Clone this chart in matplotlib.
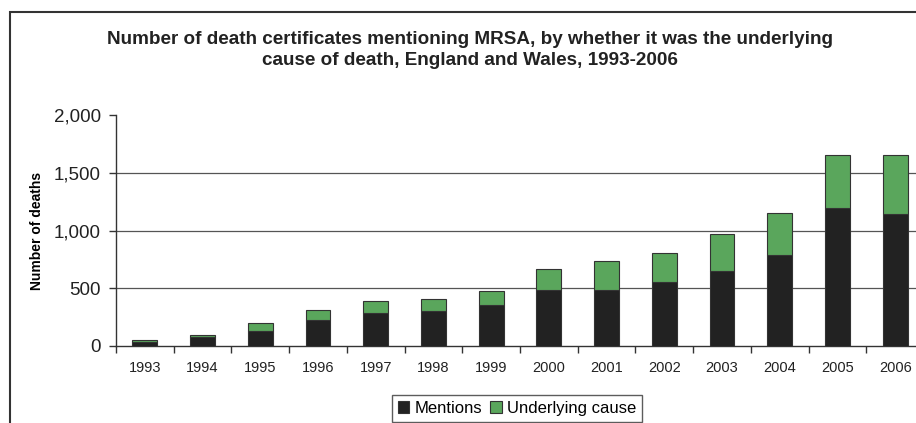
import matplotlib.pyplot as plt
from matplotlib.patches import Rectangle
import numpy as np

# Dane
years = ['1993', '1994', '1995', '1996', '1997', '1998', '1999',
         '2000', '2001', '2002', '2003', '2004', '2005', '2006']
mentions = [37, 81, 131, 227, 285, 299, 358, 483, 483, 552, 648, 791, 1192, 1140]
underlying = [18, 15, 69, 81, 105, 105, 119, 186, 255, 250, 323, 357, 462, 514]
y_ticks = [0, 500, 1000, 1500, 2000]
y_tick_labels = ['0', '500', '1,000', '1,500', '2,000']

plt.rcParams['font.family'] = ['Liberation Sans', 'DejaVu Sans']

fig = plt.figure(figsize=(9.16, 4.23), dpi=100)
ax = fig.add_axes([116 / 916, 1 - 346 / 423, 808 / 916, (346 - 115) / 423])

x = np.arange(len(years))
ax.bar(x, mentions, width=0.43, color='#222222', edgecolor='#333333',
       linewidth=0.8, label='Mentions', zorder=3)
ax.bar(x, underlying, width=0.43, bottom=mentions, color='#5aa65c',
       edgecolor='#333333', linewidth=0.8, label='Underlying cause', zorder=3)

# Linie siatki (bez linii na 2000)
for yv in y_ticks[1:-1]:
    ax.axhline(yv, color='#555555', linewidth=0.9, zorder=1)

ax.set_xlim(-0.5, len(years) - 0.5)
ax.set_ylim(0, 2000)
ax.set_yticks(y_ticks)
ax.set_yticklabels(y_tick_labels, fontsize=13.5, color='#222222')
ax.set_xticks(x)
ax.set_xticklabels(years, fontsize=10.5, color='#222222')
ax.set_xticks(np.arange(len(years) + 1) - 0.5, minor=True)
ax.tick_params(axis='x', which='major', length=0, pad=11)
ax.tick_params(axis='x', which='minor', length=5, width=1, color='#333333', direction='out')
ax.tick_params(axis='y', length=5, width=1, color='#333333', pad=6, direction='out')

for side in ['top', 'right']:
    ax.spines[side].set_visible(False)
ax.spines['left'].set_color('#333333')
ax.spines['bottom'].set_color('#333333')
ax.spines['left'].set_linewidth(1)
ax.spines['bottom'].set_linewidth(1)

ax.set_ylabel('Number of deaths', fontsize=10, fontweight='bold')
ax.yaxis.set_label_coords(-0.089, 0.5)

fig.text(470 / 916, 1 - 50 / 423,
         'Number of death certificates mentioning MRSA, by whether it was the underlying\n'
         'cause of death, England and Wales, 1993-2006',
         ha='center', va='center', fontsize=13.6, fontweight='bold',
         color='#222222', linespacing=1.3)

leg = fig.legend(loc='upper center', bbox_to_anchor=(517 / 916, 1 - 395 / 423),
                 ncol=2, fontsize=12, frameon=True, fancybox=False,
                 handlelength=0.7, handleheight=0.7, handletextpad=0.3,
                 columnspacing=0.5, borderpad=0.35, borderaxespad=0)
leg.get_frame().set_edgecolor('#333333')
leg.get_frame().set_linewidth(1)

# Ramka wokół wykresu (przycięta z prawej i z dołu)
fig.patches.append(Rectangle((10 / 916, -0.2), 1.2, 1 - 12 / 423 + 0.2,
                             transform=fig.transFigure, fill=False,
                             edgecolor='#333333', linewidth=1.5, clip_on=False))

plt.savefig('out.png', dpi=100)
